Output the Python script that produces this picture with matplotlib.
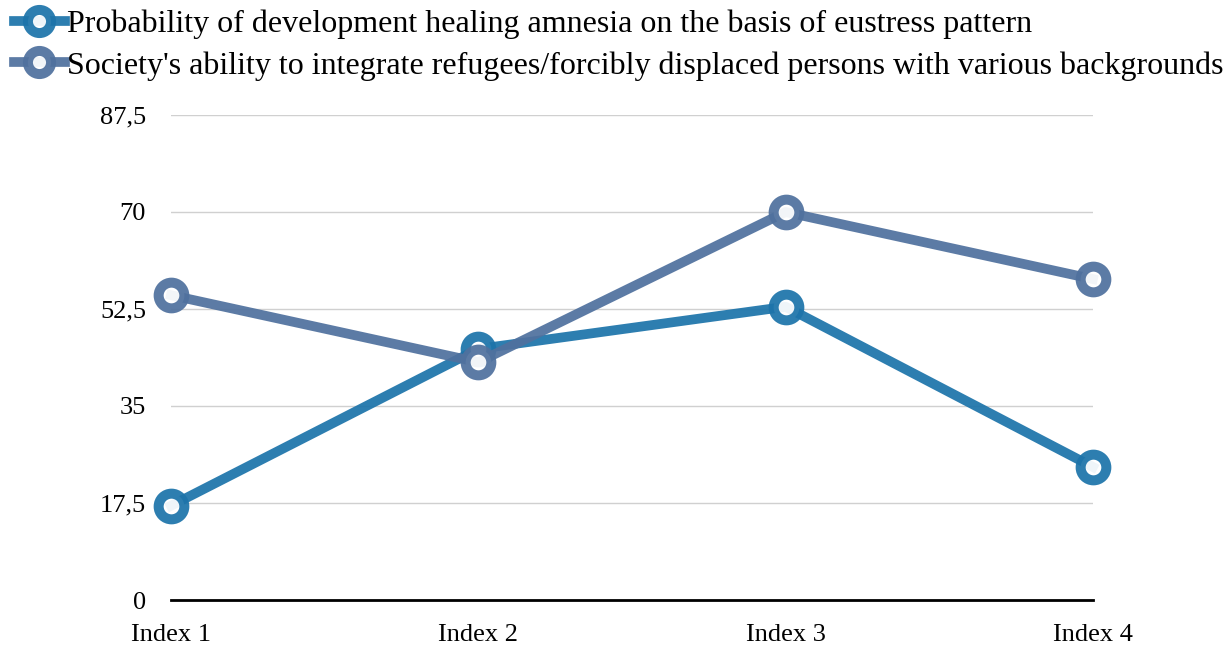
import matplotlib.pyplot as plt
from matplotlib.ticker import FuncFormatter

plt.rcParams['font.family'] = ['Liberation Serif', 'DejaVu Serif']

categories = ['Index 1', 'Index 2', 'Index 3', 'Index 4']
series_names = ['Probability of development healing amnesia on the basis of eustress pattern',
                "Society's ability to integrate refugees/forcibly displaced persons with various backgrounds"]
healing = [17.0, 45.3, 52.9, 24.0]
integration = [55.0, 42.9, 70.0, 57.9]
yticks = [0, 17.5, 35, 52.5, 70, 87.5]

colors = ['#1d74aa', '#50719e']

fig = plt.figure(figsize=(12.28, 6.46), dpi=100)
ax = fig.add_axes([0.1392, 0.0712, 0.7508, 0.7508])

x = range(len(categories))
for vals, name, c in zip([healing, integration], series_names, colors):
    ax.plot(x, vals, color=c, lw=7, alpha=0.93, marker='o', ms=18.5,
            mfc='white', mec=c, mew=7.2, label=name, clip_on=False, zorder=3)

ax.set_xlim(0, len(categories) - 1)
ax.set_ylim(0, 87.5)
ax.set_yticks(yticks)
ax.yaxis.set_major_formatter(FuncFormatter(lambda v, p: ('%g' % v).replace('.', ',')))
ax.set_xticks(list(x))
ax.set_xticklabels(categories)
ax.tick_params(axis='both', length=0, labelsize=19)
ax.tick_params(axis='y', pad=18)
ax.tick_params(axis='x', pad=17)
ax.grid(axis='y', color='#d0d0d0', lw=1)
ax.set_axisbelow(True)
for s in ['top', 'right', 'left']:
    ax.spines[s].set_visible(False)
ax.spines['bottom'].set_linewidth(2)
ax.spines['bottom'].set_zorder(2)

fig.legend(loc='upper left', bbox_to_anchor=(-0.002, 1.01), frameon=False, fontsize=23,
           handlelength=1.6, handletextpad=0.08, labelspacing=0.38, borderaxespad=0.1,
           markerscale=0.9)

plt.savefig('out.png', dpi=100)
